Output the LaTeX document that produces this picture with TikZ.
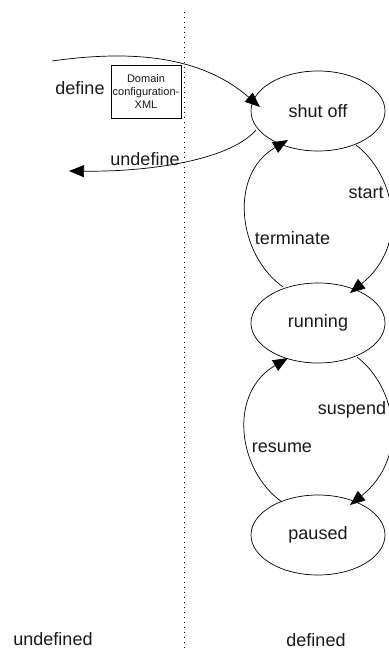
\documentclass[tikz,border=0pt]{standalone}
\usepackage{fontspec}
\setmainfont{Liberation Sans}
\usetikzlibrary{arrows.meta,shapes.geometric}
\begin{document}
\begin{tikzpicture}[x=1pt,y=-1pt,
  every node/.style={font=\fontsize{18}{21.6}\selectfont, text=black!90},
  state/.style={draw, ellipse, line width=0.7pt, inner sep=0pt, minimum width=134pt, minimum height=80pt},
  xmlbox/.style={draw, rectangle, line width=0.7pt, inner sep=0pt, minimum width=70pt, minimum height=53pt, align=center, font=\fontsize{11}{12.7}\selectfont},
  lbl/.style={inner sep=0pt},
  conn/.style={line width=0.7pt, -{Triangle[length=15pt,width=12pt]}}]
\useasboundingbox (0,0) rectangle (388,658);
\draw[line width=0.8pt, dash pattern=on 1pt off 4pt] (184,12) -- (184,651);
\node[state] (shut) at (318,111) {shut off};
\node[state] (run) at (318,323) {running};
\node[state] (pause) at (318,535) {paused};
\node[xmlbox] (xml) at (146,91.5) {Domain\\configuration-\\XML};
\coordinate (din) at (52,61);
% define
\draw[conn] (din) .. controls (130,50) and +(-60,-52) .. ([shift={(-58,-4)}]shut.center);
% undefine
\coordinate (dout) at (69,171);
\draw[conn] ([shift={(-62,19)}]shut.center) .. controls +(-26,30) and +(81,1) .. (dout);
% terminate
\draw[conn] ([shift={(-35,-36)}]run.center) .. controls +(-45,-32) and +(-60,35) .. ([shift={(-30,29)}]shut.center);
% start
\draw[conn] ([shift={(38,34)}]shut.center) .. controls +(39,30) and +(60,-48) .. ([shift={(32,-30)}]run.center);
% suspend
\draw[conn] ([shift={(39,34)}]run.center) .. controls +(39,30) and +(60,-48) .. ([shift={(32,-30)}]pause.center);
% resume
\draw[conn] ([shift={(-36,-33)}]pause.center) .. controls +(-45,-32) and +(-60,35) .. ([shift={(-30,35)}]run.center);
\node[lbl] (ldefine) at (80,88) {define};
\node[lbl] (lundefine) at (145,159) {undefine};
\node[lbl] (lstart) at (366,193) {start};
\node[lbl] (lterm) at (292.5,238) {terminate};
\node[lbl] (lsusp) at (352,410) {suspend};
\node[lbl] (lres) at (282,448) {resume};
\node[lbl] (lundef) at (53,639) {undefined};
\node[lbl] (ldef) at (316,640) {defined};
\end{tikzpicture}
\end{document}
